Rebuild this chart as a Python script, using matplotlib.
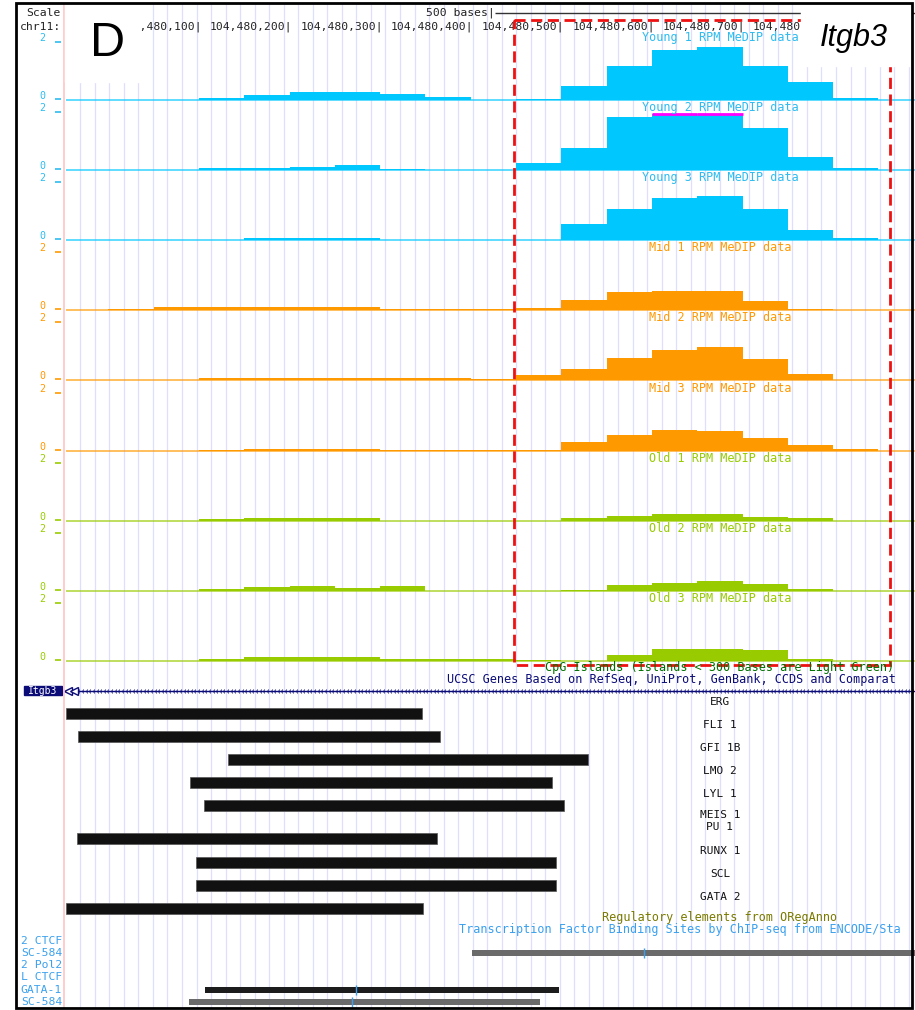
import numpy as np
import matplotlib
matplotlib.use("Agg")
import matplotlib.pyplot as plt
from matplotlib.patches import Rectangle

# %% data: MeDIP RPM in 50 bp bins, chr11 (Itgb3 locus)
bin_start = 104479950
bin_size = 50

young1 = [0, 0, 0, 0.07, 0.18, 0.27, 0.27, 0.22, 0.10, 0, 0.03, 0.50, 1.21, 1.79, 1.90, 1.21, 0.65, 0.08, 0]
young2 = [0, 0, 0, 0.07, 0.07, 0.12, 0.18, 0.05, 0, 0, 0.24, 0.80, 1.90, 2.30, 2.30, 1.52, 0.48, 0.06, 0]
young3 = [0, 0, 0, 0, 0.08, 0.08, 0.08, 0, 0, 0, 0, 0.57, 1.10, 1.52, 1.57, 1.10, 0.36, 0.08, 0]
mid1 = [0, 0.04, 0.12, 0.12, 0.12, 0.12, 0.12, 0.04, 0.05, 0.05, 0.07, 0.35, 0.65, 0.69, 0.69, 0.33, 0.04, 0, 0]
mid2 = [0, 0, 0, 0.07, 0.07, 0.07, 0.07, 0.07, 0.07, 0.04, 0.18, 0.42, 0.80, 1.08, 1.18, 0.77, 0.24, 0, 0]
mid3 = [0, 0, 0, 0.03, 0.07, 0.07, 0.07, 0.02, 0.02, 0.02, 0.02, 0.32, 0.57, 0.75, 0.71, 0.46, 0.18, 0.04, 0]
old1 = [0, 0, 0, 0.06, 0.10, 0.10, 0.10, 0, 0, 0, 0, 0.10, 0.15, 0.22, 0.22, 0.13, 0.10, 0, 0]
old2 = [0, 0, 0, 0.06, 0.12, 0.17, 0.11, 0.17, 0, 0, 0, 0.02, 0.20, 0.29, 0.33, 0.23, 0.06, 0, 0]
old3 = [0, 0, 0, 0.08, 0.14, 0.14, 0.14, 0.08, 0.08, 0.08, 0.03, 0, 0.21, 0.43, 0.43, 0.38, 0.08, 0, 0]

track_names = ["Young 1", "Young 2", "Young 3", "Mid 1", "Mid 2", "Mid 3", "Old 1", "Old 2", "Old 3"]
track_values = [young1, young2, young3, mid1, mid2, mid3, old1, old2, old3]
track_group = ["young"] * 3 + ["mid"] * 3 + ["old"] * 3

tick_pos = [104480100, 104480200, 104480300, 104480400, 104480500, 104480600, 104480700]
tick_cut = 104480800  # last ruler label, only "104,480" shows before the gene name

# ORegAnno regulatory elements
tf_names = ["ERG", "FLI 1", "GFI 1B", "LMO 2", "LYL 1", "MEIS 1", "PU 1", "RUNX 1", "SCL", "GATA 2"]
tf_start = [104479953, 104479967, 104480132, 104480090, 104480106, None, 104479965, 104480097, 104480097, 104479953]
tf_end = [104480346, 104480366, 104480529, 104480490, 104480503, None, 104480363, 104480494, 104480494, 104480347]

# ENCODE TFBS
encode_labels = ["2 CTCF", "SC-584", "2 Pol2", "L CTCF", "GATA-1", "SC-584"]
encode_start = [None, 104480401, None, None, 104480107, 104480089]
encode_end = [None, 104480900, None, None, 104480497, 104480476]
encode_peak = [None, 104480591, None, None, 104480273, 104480269]
encode_shade = [None, "#6a6a6a", None, None, "#1c1c1c", "#6a6a6a"]

cpg_start, cpg_end = 104480448, 104480863
gene_start = 104479953

# %% layout
W, H = 915, 1010
view_start, view_end = 104479880.4, 104480890.3
colors = {"young": "#00c8ff", "mid": "#ff9900", "old": "#99cc00"}
text_colors = {"young": "#2cbcf0", "mid": "#ff9900", "old": "#99cc00"}
base0, track_step, px_per_unit = 100, 70.1, 28
mono = "DejaVu Sans Mono"

fig = plt.figure(figsize=(W / 100, H / 100), dpi=100)
ax = fig.add_axes([0, 0, 1, 1])
ax.set_xlim(view_start, view_end)
ax.set_ylim(H, 0)
ax.axis("off")
lay = fig.add_axes([0, 0, 1, 1])
lay.set_xlim(0, W)
lay.set_ylim(H, 0)
lay.axis("off")
lay.patch.set_alpha(0)

# guidelines
grid_x = np.arange(104479969, view_end, 16.04)
ax.vlines(grid_x, 4, 1008, color="#dedeff", lw=0.9, zorder=0)
lay.vlines(64, 4, 1008, color="#ffc4c4", lw=1.2)

# header
lay.text(61, 13, "Scale", ha="right", va="center", fontsize=8.2, family=mono, color="#222222")
lay.text(61, 27, "chr11:", ha="right", va="center", fontsize=8.2, family=mono, color="#222222")
scale_left = 104480427
ax.text(scale_left, 13, "500 bases|", ha="right", va="center", fontsize=8.2, family=mono, color="#222222")
ax.hlines(13, scale_left, scale_left + 500, color="#333333", lw=1)
for p in tick_pos:
    ax.text(p + 3, 27, f"{p:,}|", ha="right", va="center", fontsize=8.2, family=mono, color="#222222")
ax.text(tick_cut - 36, 27, f"{tick_cut:,}"[:7], ha="right", va="center", fontsize=8.2,
        family=mono, color="#222222")

# MeDIP tracks
left = bin_start + bin_size * np.arange(len(young1))
for i, (name, vals, grp) in enumerate(zip(track_names, track_values, track_group)):
    base = base0 + track_step * i
    v = np.array(vals)
    ax.hlines(base, gene_start, view_end, color=colors[grp], lw=1.1, alpha=0.8, zorder=2)
    ax.bar(left, -np.minimum(v, 2) * px_per_unit, width=bin_size, bottom=base,
           align="edge", color=colors[grp], lw=0, zorder=3)
    over = v > 2
    ax.hlines(np.full(over.sum(), base - 2 * px_per_unit), left[over], left[over] + bin_size,
              color="#ff00ff", lw=2, zorder=4)
    lay.text(720, base - 62.5, f"{name} RPM MeDIP data", ha="center", va="center",
             fontsize=8.5, family=mono, color=text_colors[grp])
    lay.text(42, base - 62, "2", ha="center", va="center", fontsize=7.2, family=mono, color=text_colors[grp])
    lay.text(42, base - 4, "0", ha="center", va="center", fontsize=7.2, family=mono, color=text_colors[grp])
    lay.hlines([base - 58, base - 1], 55, 61, color=text_colors[grp], lw=1.2)

# CpG island box
ax.add_patch(Rectangle((cpg_start, 20), cpg_end - cpg_start, 645, fill=False, ec="#ee1111",
                       lw=2, ls=(0, (4, 2)), zorder=5))
lay.text(720, 667, "CpG Islands (Islands < 300 Bases are Light Green)", ha="center", va="center",
         fontsize=8.5, family=mono, color="#007000")

# UCSC gene
navy = "#0c0c78"
lay.text(447, 679, "UCSC Genes Based on RefSeq, UniProt, GenBank, CCDS and Comparat",
         ha="left", va="center", fontsize=8.5, family=mono, color=navy)
lay.add_patch(Rectangle((24, 686), 38, 9, color=navy))
lay.text(43, 690.5, "Itgb3", ha="center", va="center", fontsize=7, family=mono, color="white")
ax.hlines(691, gene_start, view_end, color=navy, lw=1)
arr = np.arange(gene_start + 14, view_end, 4)
ax.plot(arr, np.full(len(arr), 691), ls="", marker="3", ms=3.5, mew=0.6, color=navy)
ax.plot([gene_start + 3, gene_start + 9], [691, 691], ls="", marker="<", ms=6, mfc="white",
        mec=navy, mew=1)

# ORegAnno bars
tf_rows = [713, 736, 759, 782, 805, 826, 838, 862, 885, 908]
for name, s, e, y in zip(tf_names, tf_start, tf_end, tf_rows):
    if s is not None:
        ax.barh(y, e - s, left=s, height=11, color="#111111", ec="#555555", lw=0.5, zorder=3)
    lay.text(720, y - 11, name, ha="center", va="center", fontsize=8, family=mono, color="#111111")

lay.text(720, 918, "Regulatory elements from ORegAnno", ha="center", va="center",
         fontsize=8.5, family=mono, color="#7a7a00")
lay.text(459, 930, "Transcription Factor Binding Sites by ChIP-seq from ENCODE/Sta",
         ha="left", va="center", fontsize=8.5, family=mono, color="#3aa0ee")

enc_rows = [941, 953, 965, 977, 990, 1002]
for lab, s, e, pk, c, y in zip(encode_labels, encode_start, encode_end, encode_peak, encode_shade, enc_rows):
    lay.text(62, y, lab, ha="right", va="center", fontsize=8.2, family=mono, color="#3aa0ee")
    if s is not None:
        ax.barh(y, e - s, left=s, height=5.5, color=c, lw=0, zorder=3)
        ax.vlines(pk, y - 5, y + 5, color="#3aa0ee", lw=1, zorder=4)

# panel letter and gene name
lay.add_patch(Rectangle((65, 4), 75, 78, color="white", zorder=2))
lay.add_patch(Rectangle((801, 4), 110, 62, color="white", zorder=2))
lay.text(108, 44, "D", ha="center", va="center", fontsize=35, family="Liberation Sans", zorder=3)
lay.text(854, 38, "Itgb3", ha="center", va="center", fontsize=22, family="Liberation Sans",
         style="italic", zorder=3)

lay.add_patch(Rectangle((16, 3), 896, 1005, fill=False, ec="black", lw=2, zorder=6))

fig.savefig("out.png", dpi=100, facecolor="white")
